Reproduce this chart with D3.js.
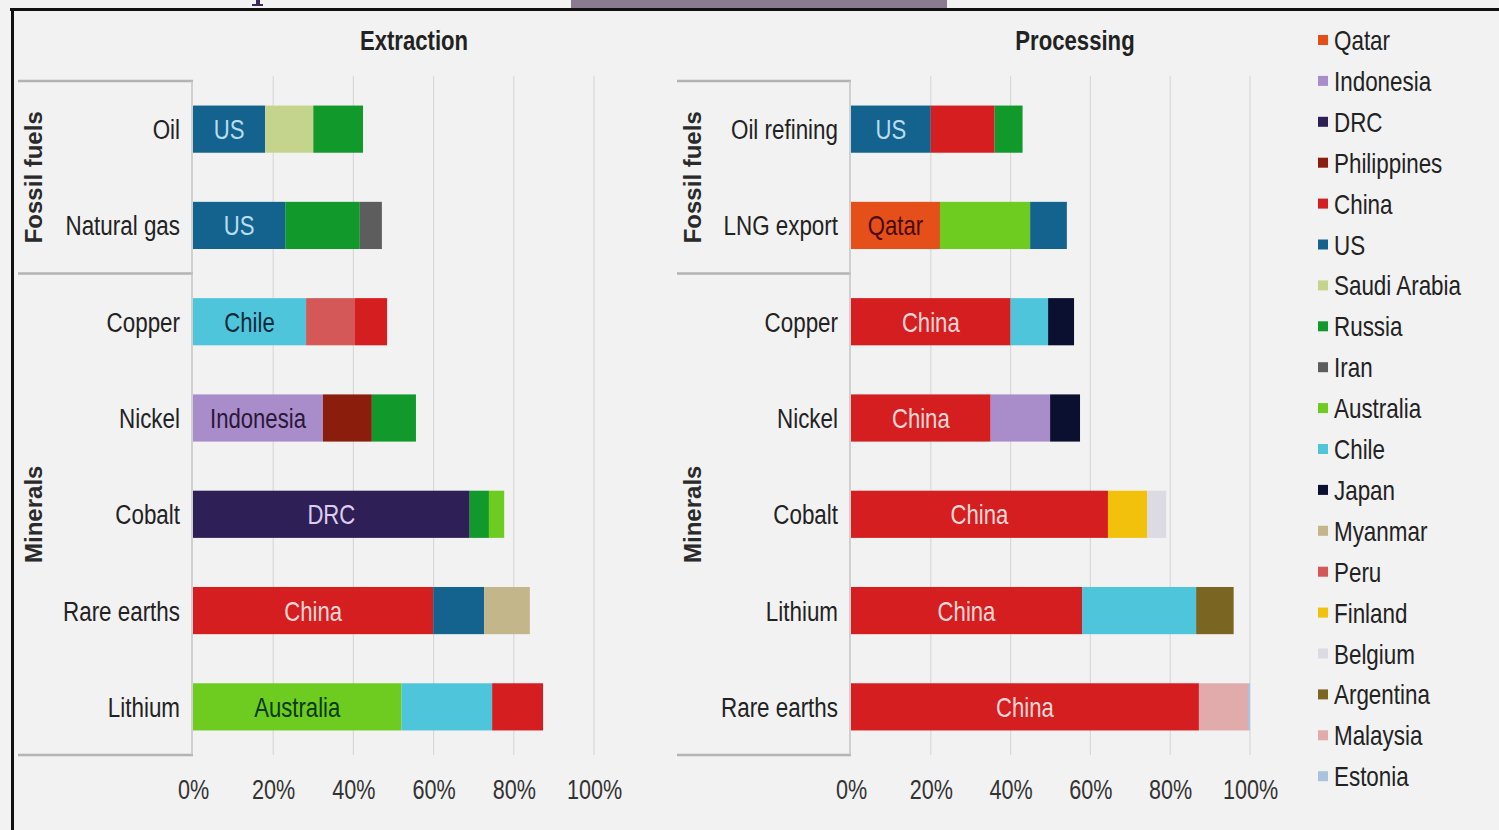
<!DOCTYPE html>
<html>
<head>
<meta charset="utf-8">
<script src="https://cdn.jsdelivr.net/npm/d3@7"></script>
<style>
  html, body { margin: 0; padding: 0; background: #f2f2f2; }
  svg { display: block; }
  text { font-family: "Liberation Sans", Arial, sans-serif; }
</style>
</head>
<body>
<div class="chart"></div>
<script>
// 国家（图例顺序）与颜色
var countries = ["Qatar", "Indonesia", "DRC", "Philippines", "China", "US", "Saudi Arabia", "Russia", "Iran",
  "Australia", "Chile", "Japan", "Myanmar", "Peru", "Finland", "Belgium", "Argentina", "Malaysia", "Estonia"];
var countryColors = ["#e5501a", "#a98cca", "#2e1f56", "#8a1d0c", "#d41e1f", "#14628e", "#c5d48c", "#11992c", "#5d5d5d",
  "#6ecb20", "#4fc5dc", "#0b0f30", "#c3b68b", "#d45858", "#f1c10c", "#dcdae2", "#7a6522", "#e2abab", "#a9c3df"];
// 条内标签文字颜色
var labelColors = { "US": "#b8dcf0", "Chile": "#0b2a3a", "Indonesia": "#2a1838", "DRC": "#dccdf0",
  "China": "#ffd8d8", "Australia": "#0a3a0a", "Qatar": "#4a0a00" };

var groups = ["Fossil fuels", "Minerals"];
var groupSizes = [2, 5];

// 开采
var extractionRows = ["Oil", "Natural gas", "Copper", "Nickel", "Cobalt", "Rare earths", "Lithium"];
var extractionCountries = [
  ["US", "Saudi Arabia", "Russia"],
  ["US", "Russia", "Iran"],
  ["Chile", "Peru", "China"],
  ["Indonesia", "Philippines", "Russia"],
  ["DRC", "Russia", "Australia"],
  ["China", "US", "Myanmar"],
  ["Australia", "Chile", "China"]
];
var extractionValues = [
  [18, 12, 12.4],
  [23, 18.6, 5.5],
  [28.2, 12.2, 8],
  [32.4, 12.2, 11],
  [69, 4.8, 3.8],
  [59.9, 12.7, 11.4],
  [52, 22.6, 12.7]
];

// 加工
var processingRows = ["Oil refining", "LNG export", "Copper", "Nickel", "Cobalt", "Lithium", "Rare earths"];
var processingCountries = [
  ["US", "China", "Russia"],
  ["Qatar", "Australia", "US"],
  ["China", "Chile", "Japan"],
  ["China", "Indonesia", "Japan"],
  ["China", "Finland", "Belgium"],
  ["China", "Chile", "Argentina"],
  ["China", "Malaysia", "Estonia"]
];
var processingValues = [
  [20, 16, 7],
  [22.3, 22.6, 9.2],
  [40, 9.4, 6.5],
  [35, 14.9, 7.5],
  [64.4, 9.8, 4.8],
  [57.9, 28.6, 9.4],
  [87.2, 12.3, 0.5]
];

var xTicks = [0, 20, 40, 60, 80, 100];

var width = 1499, height = 830;
var color = d3.scaleOrdinal().domain(countries).range(countryColors);

// 把文字横向压窄（模拟 Arial Narrow）
function narrow(sel, sx) {
  sel.each(function () {
    var t = d3.select(this);
    var x = +t.attr("x") || 0, y = +t.attr("y") || 0;
    t.attr("x", 0).attr("y", 0).attr("transform", `translate(${x},${y}) scale(${sx},1)`);
  });
}

var svg = d3.select(".chart").append("svg")
  .attr("width", width)
  .attr("height", height);

svg.append("rect").attr("width", width).attr("height", height).attr("fill", "#f2f2f2");

// 顶部残留的色块与标题字母下半部分
svg.append("rect").attr("x", 571).attr("y", 0).attr("width", 376).attr("height", 9).attr("fill", "#8a7b8e");
svg.append("path").attr("d", "M256,0 H260 V4 H263 V6 H252 V4 H256 Z").attr("fill", "#3b2a5e");

// 外框
svg.append("line").attr("x1", 10).attr("x2", width).attr("y1", 9.5).attr("y2", 9.5)
  .attr("stroke", "#111").attr("stroke-width", 3);
svg.append("line").attr("x1", 12.5).attr("x2", 12.5).attr("y1", 9).attr("y2", height)
  .attr("stroke", "#111").attr("stroke-width", 3);

function drawPanel(opt) {
  var x = d3.scaleLinear().domain([0, 100]).range([opt.x0, opt.x1]);
  var y = d3.scaleBand().domain(opt.rows).range([81, 755]).paddingInner(0.51).paddingOuter(0.255);
  var g = svg.append("g");

  // 标题
  g.append("text")
    .attr("x", opt.titleX).attr("y", 50)
    .attr("text-anchor", "middle")
    .attr("font-size", 27).attr("font-weight", "bold").attr("fill", "#222")
    .text(opt.title)
    .call(narrow, 0.82);

  // 网格线
  g.append("g").selectAll("line")
    .data(xTicks.slice(1))
    .enter().append("line")
    .attr("x1", d => x(d)).attr("x2", d => x(d))
    .attr("y1", 76).attr("y2", 755)
    .attr("stroke", "#d9d9d9").attr("stroke-width", 1.2);

  // 刻度标签
  var axis = d3.axisBottom(x).tickValues(xTicks).tickFormat(d => d + "%").tickSize(0).tickPadding(0);
  var ax = g.append("g").attr("transform", "translate(0,799)").call(axis);
  ax.select(".domain").remove();
  ax.selectAll("text")
    .attr("font-size", 27).attr("fill", "#333").attr("dy", 0)
    .style("font-family", "Liberation Sans, Arial, sans-serif")
    .call(narrow, 0.8);

  // 分组框
  var step = y.step();
  var top = 81, bottom = 755;
  var divY = top + groupSizes[0] * step;
  var frame = g.append("g").attr("stroke", "#b3b3b3").attr("stroke-width", 2.5);
  [top, divY, bottom].forEach(function (yy) {
    frame.append("line").attr("x1", opt.boxX).attr("x2", opt.x0).attr("y1", yy).attr("y2", yy);
  });
  g.append("line").attr("x1", opt.x0 - 1).attr("x2", opt.x0 - 1).attr("y1", top).attr("y2", bottom)
    .attr("stroke", "#c4c4c4").attr("stroke-width", 1.5);

  // 分组名称（竖排）
  var groupCenters = [(top + divY) / 2, (divY + bottom) / 2];
  g.append("g").selectAll("text")
    .data(groups)
    .enter().append("text")
    .attr("transform", (d, i) => `translate(${opt.boxX + 24},${groupCenters[i]}) rotate(-90)`)
    .attr("text-anchor", "middle")
    .attr("font-size", 24).attr("font-weight", "bold").attr("fill", "#2a2a2a")
    .text(d => d);

  // 类别标签
  g.append("g").selectAll("text")
    .data(opt.rows)
    .enter().append("text")
    .attr("x", opt.x0 - 13)
    .attr("y", d => y(d) + y.bandwidth() / 2 + 10)
    .attr("text-anchor", "end")
    .attr("font-size", 28).attr("fill", "#222")
    .text(d => d)
    .call(narrow, 0.8);

  // 堆叠条
  opt.rows.forEach(function (row, i) {
    var acc = 0;
    var segs = opt.values[i].map(function (v, j) {
      var s = { country: opt.countries[i][j], x0: acc, x1: acc + v };
      acc += v;
      return s;
    });
    var rg = g.append("g");
    rg.selectAll("rect")
      .data(segs)
      .enter().append("rect")
      .attr("x", d => x(d.x0))
      .attr("y", y(row))
      .attr("width", d => x(d.x1) - x(d.x0))
      .attr("height", y.bandwidth())
      .attr("fill", d => color(d.country));
    var first = segs[0];
    rg.append("text")
      .attr("x", (x(first.x0) + x(first.x1)) / 2)
      .attr("y", y(row) + y.bandwidth() / 2 + 10)
      .attr("text-anchor", "middle")
      .attr("font-size", 27)
      .attr("fill", labelColors[first.country] || "#fff")
      .text(first.country)
      .call(narrow, 0.82);
  });
}

drawPanel({ title: "Extraction", titleX: 414, x0: 193, x1: 594, boxX: 18,
  rows: extractionRows, countries: extractionCountries, values: extractionValues });
drawPanel({ title: "Processing", titleX: 1075, x0: 851, x1: 1250, boxX: 677,
  rows: processingRows, countries: processingCountries, values: processingValues });

// 图例
var legend = svg.append("g").attr("transform", "translate(1318,40)");
var items = legend.selectAll("g")
  .data(countries)
  .enter().append("g")
  .attr("transform", (d, i) => `translate(0,${i * 40.9})`);
items.append("rect")
  .attr("x", 0).attr("y", -5).attr("width", 10).attr("height", 10)
  .attr("fill", d => color(d));
items.append("text")
  .attr("x", 16).attr("y", 10)
  .attr("font-size", 27).attr("fill", "#222")
  .text(d => d)
  .call(narrow, 0.83);
</script>
</body>
</html>
